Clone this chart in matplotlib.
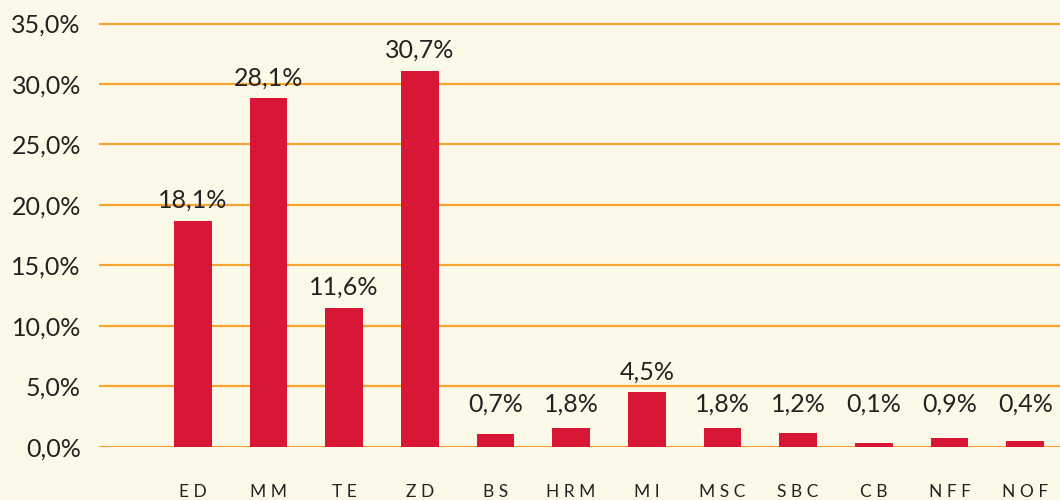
import matplotlib
matplotlib.use("Agg")
import matplotlib.pyplot as plt

categories = ["ED", "MM", "TE", "ZD", "BS", "HRM", "MI", "MSC", "SBC", "CB", "NFF", "NOF"]
bar_values = [18.7, 28.8, 11.5, 31.1, 1.05, 1.55, 4.5, 1.55, 1.13, 0.31, 0.72, 0.47]
value_labels = ["18,1%", "28,1%", "11,6%", "30,7%", "0,7%", "1,8%", "4,5%", "1,8%",
                "1,2%", "0,1%", "0,9%", "0,4%"]
y_ticks = [0, 5, 10, 15, 20, 25, 30, 35]

BG = "#FDF9E9"
BAR = "#D81636"
GRID = "#F6A52E"
TXT = "#222222"

plt.rcParams['font.family'] = ['Lato', 'DejaVu Sans']

fig = plt.figure(figsize=(10.6, 5.0), dpi=100, facecolor=BG)
ax = fig.add_axes([0.0934, 0.1066, 0.9066, 0.8536], facecolor=BG)

x = list(range(len(categories)))
ax.bar(x, bar_values, width=0.5, color=BAR, zorder=3)

ax.set_ylim(0, 35.3)
ax.set_xlim(-1.24, 11.46)
ax.set_yticks(y_ticks)
ax.set_yticklabels([f"{t:.1f}".replace(".", ",") + "%" for t in y_ticks],
                   fontsize=18, color=TXT)
ax.yaxis.grid(True, color=GRID, linewidth=1.6, zorder=0)
ax.set_axisbelow(True)

ax.set_xticks(x)
ax.set_xticklabels([" ".join(c) for c in categories], fontsize=12.5, color=TXT)
ax.tick_params(axis='x', length=0, pad=27)
ax.tick_params(axis='y', length=0, pad=13)

for s in ax.spines.values():
    s.set_visible(False)

for xi, v, lab in zip(x, bar_values, value_labels):
    ax.annotate(lab, (xi, max(v, 1.8)), xytext=(0, 6.5), textcoords="offset points",
                ha="center", va="bottom", fontsize=18, color=TXT, zorder=4)

fig.savefig("out.png", dpi=100, facecolor=BG)
